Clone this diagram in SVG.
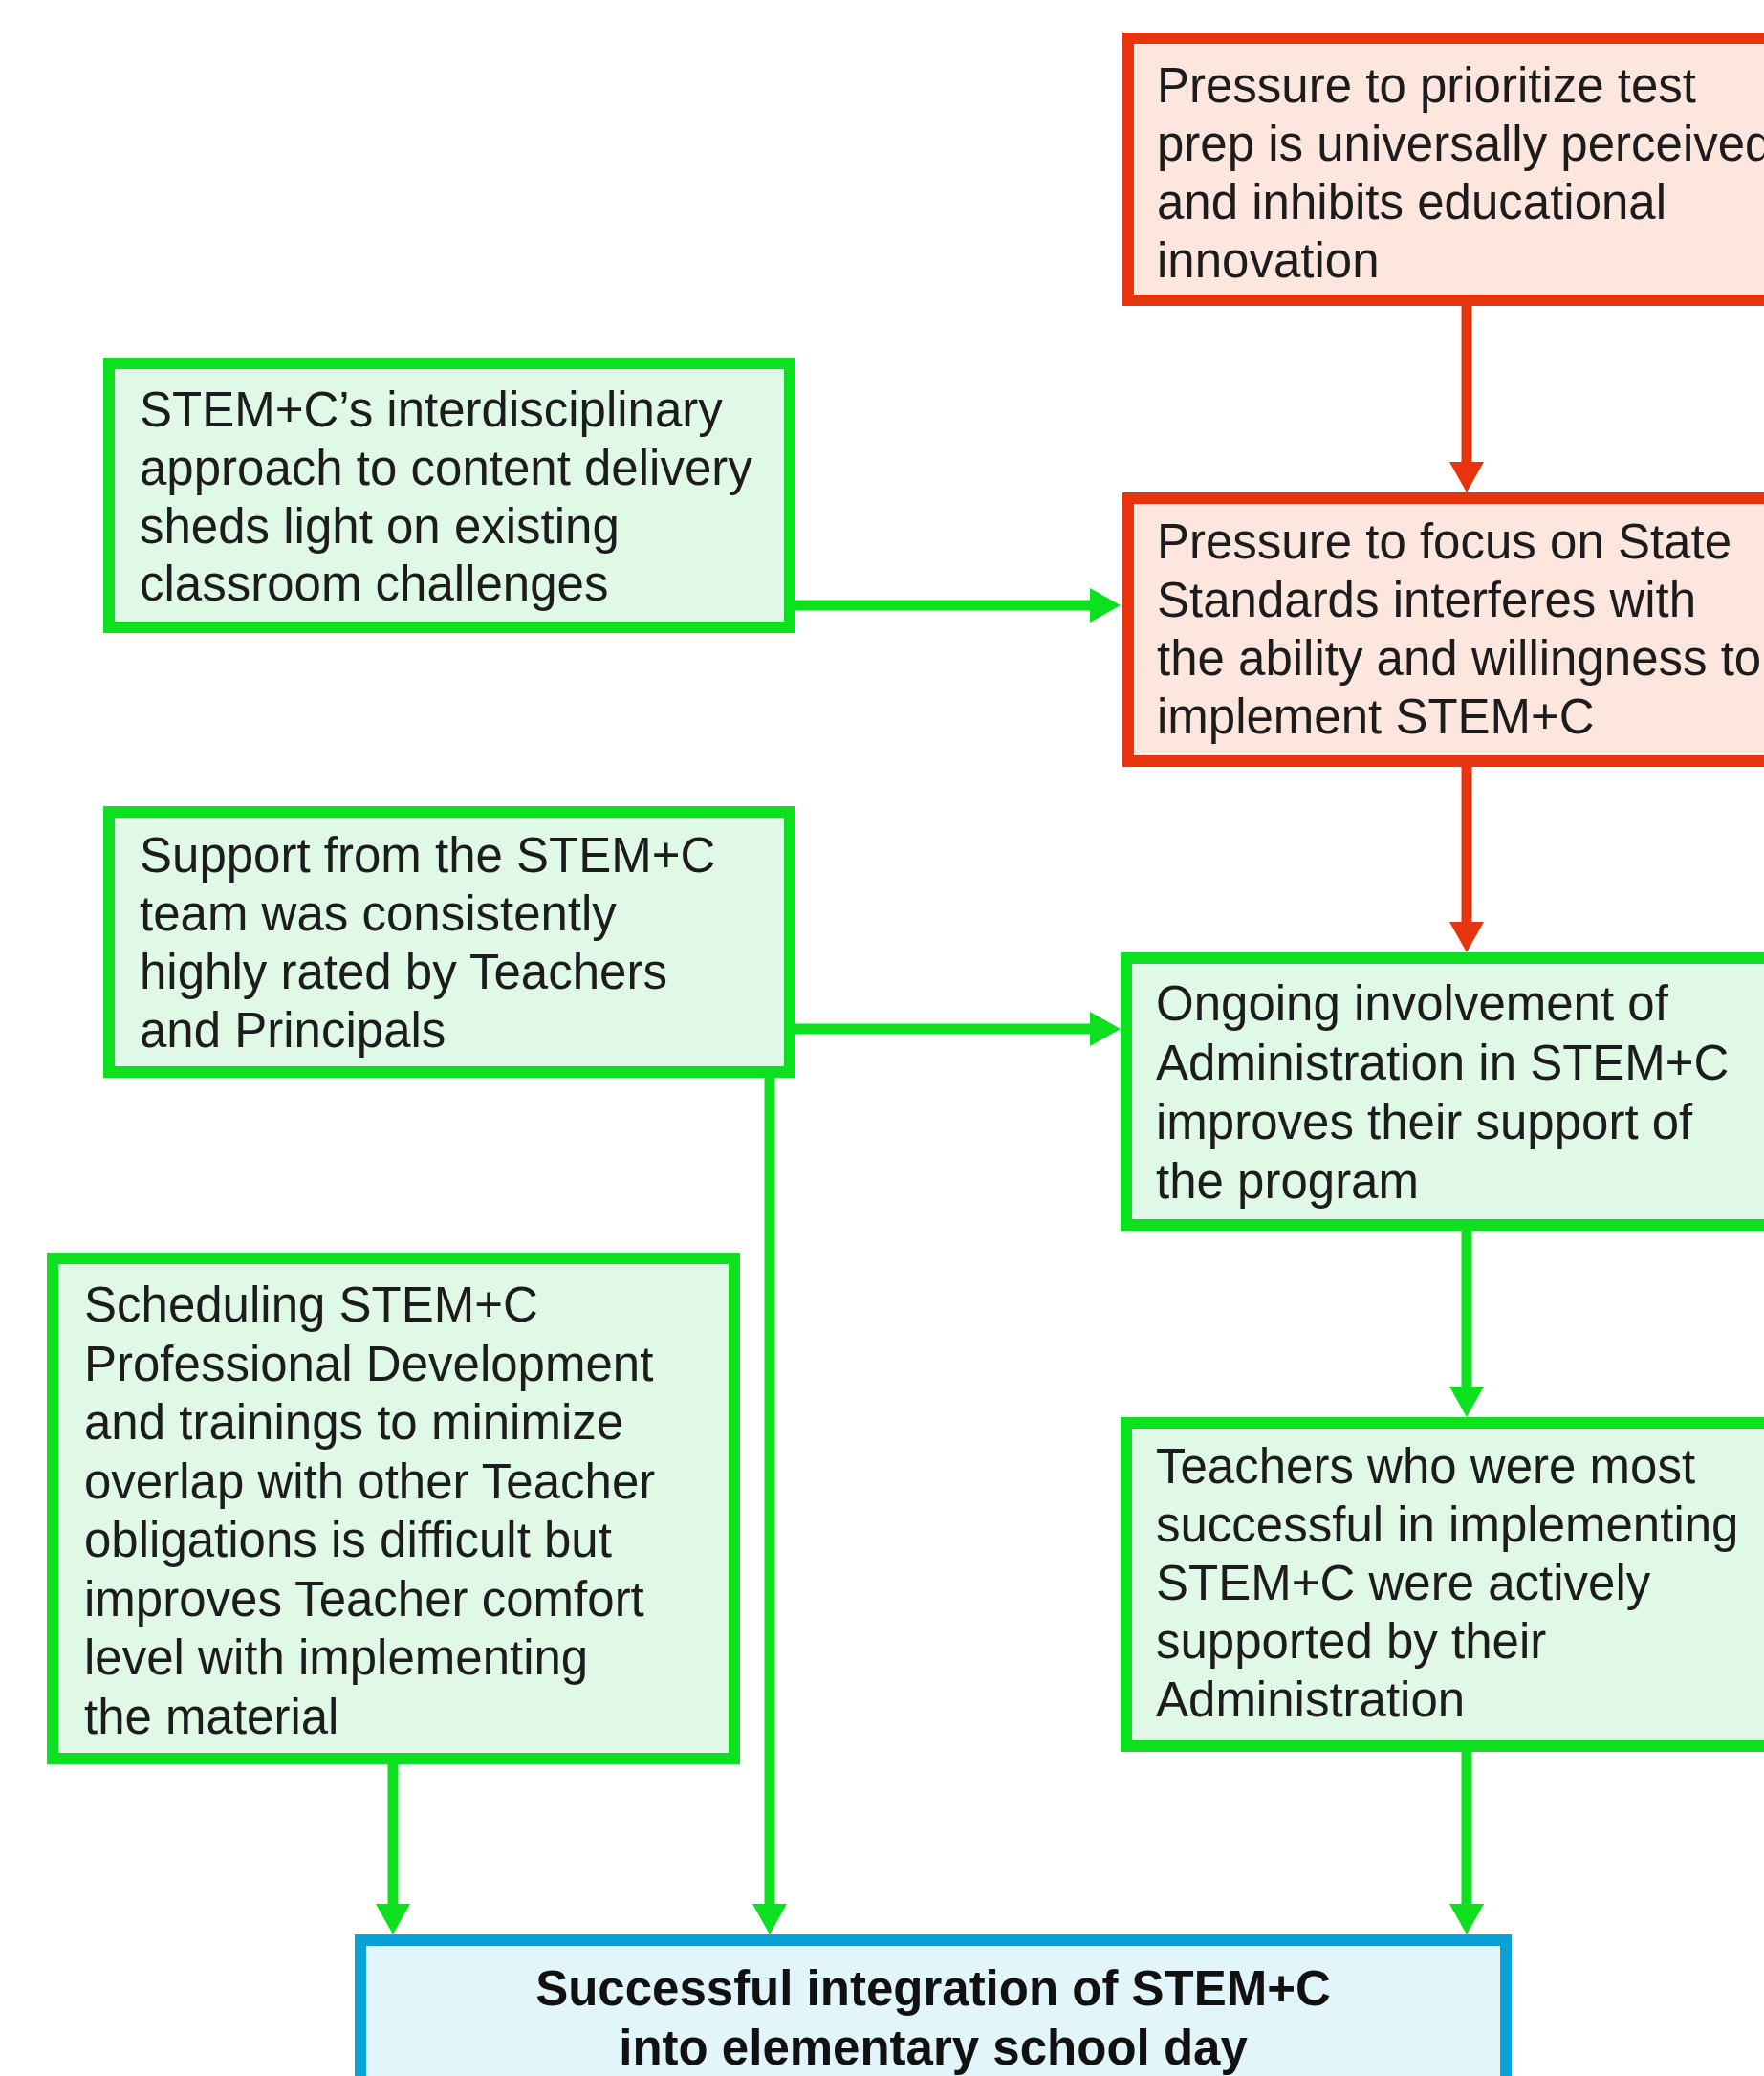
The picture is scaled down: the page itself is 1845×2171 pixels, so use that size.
<svg xmlns="http://www.w3.org/2000/svg" width="1845" height="2171" viewBox="0 0 1845 2171">
<style>
.t{font-family:"Liberation Sans",Arial,sans-serif;font-size:51px;fill:#1c1c1c}
.b{font-family:"Liberation Sans",Arial,sans-serif;font-size:51px;font-weight:bold;fill:#111;text-anchor:middle}
.red{fill:#fde6de;stroke:#e8340e;stroke-width:12}
.grn{fill:#e0f8e6;stroke:#0de01f;stroke-width:12}
.blu{fill:#e2f5fb;stroke:#0aa2d6;stroke-width:12}
.cr{stroke:#e8340e;stroke-width:11;fill:none}
.cg{stroke:#0de01f;stroke-width:11;fill:none}
</style>
<defs>
<marker id="ar" viewBox="0 0 32 36" refX="2" refY="18" markerWidth="32" markerHeight="36" markerUnits="userSpaceOnUse" orient="auto"><path d="M0,0 L32,18 L0,36 z" fill="#e8340e"/></marker>
<marker id="ag" viewBox="0 0 32 36" refX="2" refY="18" markerWidth="32" markerHeight="36" markerUnits="userSpaceOnUse" orient="auto"><path d="M0,0 L32,18 L0,36 z" fill="#0de01f"/></marker>
</defs>
<rect width="1845" height="2171" fill="#ffffff"/>
<g id="connectors">
<line class="cr" x1="1534" y1="318" x2="1534" y2="485" marker-end="url(#ar)"/>
<line class="cr" x1="1534" y1="800" x2="1534" y2="966" marker-end="url(#ar)"/>
<line class="cg" x1="1534" y1="1285" x2="1534" y2="1452" marker-end="url(#ag)"/>
<line class="cg" x1="1534" y1="1830" x2="1534" y2="1993" marker-end="url(#ag)"/>
<line class="cg" x1="830" y1="633" x2="1142" y2="633" marker-end="url(#ag)"/>
<line class="cg" x1="830" y1="1076" x2="1142" y2="1076" marker-end="url(#ag)"/>
<line class="cg" x1="805" y1="1125" x2="805" y2="1993" marker-end="url(#ag)"/>
<line class="cg" x1="411" y1="1843" x2="411" y2="1993" marker-end="url(#ag)"/>
</g>
<g id="n1">
<rect class="red" x="1180" y="40" width="720" height="274"/>
<text class="t" x="1210" y="107">Pressure to prioritize test</text>
<text class="t" x="1210" y="168">prep is universally perceived</text>
<text class="t" x="1210" y="229">and inhibits educational</text>
<text class="t" x="1210" y="290">innovation</text>
</g>
<g id="n2">
<rect class="red" x="1180" y="521" width="720" height="275"/>
<text class="t" x="1210" y="584">Pressure to focus on State</text>
<text class="t" x="1210" y="645">Standards interferes with</text>
<text class="t" x="1210" y="706">the ability and willingness to</text>
<text class="t" x="1210" y="767">implement STEM+C</text>
</g>
<g id="n3">
<rect class="grn" x="1178" y="1002" width="722" height="279"/>
<text class="t" x="1209" y="1067">Ongoing involvement of</text>
<text class="t" x="1209" y="1129">Administration in STEM+C</text>
<text class="t" x="1209" y="1191">improves their support of</text>
<text class="t" x="1209" y="1253">the program</text>
</g>
<g id="n4">
<rect class="grn" x="1178" y="1488" width="722" height="338"/>
<text class="t" x="1209" y="1551">Teachers who were most</text>
<text class="t" x="1209" y="1612">successful in implementing</text>
<text class="t" x="1209" y="1673">STEM+C were actively</text>
<text class="t" x="1209" y="1734">supported by their</text>
<text class="t" x="1209" y="1795">Administration</text>
</g>
<g id="n5">
<rect class="grn" x="114" y="380" width="712" height="276"/>
<text class="t" x="146" y="446">STEM+C’s interdisciplinary</text>
<text class="t" x="146" y="507">approach to content delivery</text>
<text class="t" x="146" y="568">sheds light on existing</text>
<text class="t" x="146" y="628">classroom challenges</text>
</g>
<g id="n6">
<rect class="grn" x="114" y="849" width="712" height="272"/>
<text class="t" x="146" y="912">Support from the STEM+C</text>
<text class="t" x="146" y="973">team was consistently</text>
<text class="t" x="146" y="1034">highly rated by Teachers</text>
<text class="t" x="146" y="1095">and Principals</text>
</g>
<g id="n7">
<rect class="grn" x="55" y="1316" width="713" height="523"/>
<text class="t" x="88" y="1382">Scheduling STEM+C</text>
<text class="t" x="88" y="1444">Professional Development</text>
<text class="t" x="88" y="1505">and trainings to minimize</text>
<text class="t" x="88" y="1567">overlap with other Teacher</text>
<text class="t" x="88" y="1628">obligations is difficult but</text>
<text class="t" x="88" y="1690">improves Teacher comfort</text>
<text class="t" x="88" y="1751">level with implementing</text>
<text class="t" x="88" y="1813">the material</text>
</g>
<g id="n8">
<rect class="blu" x="377" y="2029" width="1198" height="200"/>
<text class="b" x="976" y="2097">Successful integration of STEM+C</text>
<text class="b" x="976" y="2159">into elementary school day</text>
</g>
</svg>
